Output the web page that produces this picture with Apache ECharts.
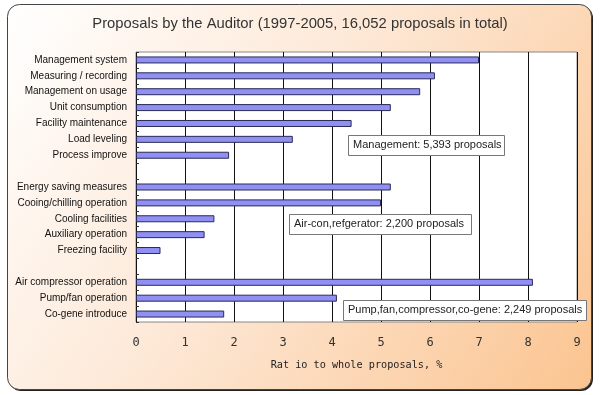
<!DOCTYPE html>
<html><head><meta charset="utf-8">
<script src="https://cdn.jsdelivr.net/npm/echarts@6/dist/echarts.min.js"></script>
<style>html,body{margin:0;padding:0;background:#fff}#c{width:600px;height:395px}</style>
</head><body><div id="c"></div>
<script>
const categories = ['Management system','Measuring / recording','Management on usage','Unit consumption','Facility maintenance','Load leveling','Process improve',' ',
  'Energy saving measures','Cooing/chilling operation','Cooling facilities','Auxiliary operation','Freezing facility','  ',
  'Air compressor operation','Pump/fan operation','Co-gene introduce'];
const values = [7.0, 6.1, 5.8, 5.2, 4.4, 3.2, 1.9, null,
  5.2, 5.0, 1.6, 1.4, 0.5, null,
  8.1, 4.1, 1.8];
const xTicks = [0,1,2,3,4,5,6,7,8,9];
const titleText = 'Proposals by the Auditor (1997-2005, 16,052 proposals in total)';
const xName = 'Rat io to whole proposals, %';
const notes = [
  {text:'Management: 5,393 proposals', x:348, y:135, w:156},
  {text:'Air-con,refgerator: 2,200 proposals', x:289, y:214, w:182},
  {text:'Pump,fan,compressor,co-gene: 2,249 proposals', x:343, y:300, w:243}
];

const chart = echarts.init(document.getElementById('c'), null, {renderer:'canvas'});
const noteGraphics = [];
notes.forEach(n => {
  noteGraphics.push({type:'rect', left:n.x, top:n.y, z:10, shape:{width:n.w, height:20},
    style:{fill:'#fff', stroke:'#777', lineWidth:1}});
  noteGraphics.push({type:'text', left:n.x+5, top:n.y+4, z:11,
    style:{text:n.text, font:'11px "Liberation Sans", Arial, sans-serif', fill:'#222'}});
});
chart.setOption({
  animation:false,
  backgroundColor:'#fff',
  title:{text:titleText, left:'center', top:11,
    textStyle:{fontSize:14.8, fontWeight:'normal', color:'#333', fontFamily:'"Liberation Sans", Arial, sans-serif'}},
  grid:{left:136, top:52, width:441, height:270, show:true, backgroundColor:'#fff', borderColor:'#888', borderWidth:1},
  xAxis:{type:'value', min:0, max:9, interval:1,
    axisLine:{show:false}, axisTick:{show:false},
    axisLabel:{margin:15, fontSize:12, color:'#333', fontFamily:'"DejaVu Sans Mono", monospace',
      formatter: v => xTicks.includes(v) ? String(v) : ''},
    splitLine:{show:true, lineStyle:{color:'#111', width:1}},
    name:xName, nameLocation:'middle', nameGap:38,
    nameTextStyle:{fontSize:10.2, color:'#222', fontFamily:'"DejaVu Sans Mono", monospace'}},
  yAxis:{type:'category', data:categories, inverse:true,
    axisLine:{show:false},
    axisTick:{show:true, inside:true, length:3, lineStyle:{color:'#333'}},
    axisLabel:{margin:9, fontSize:10, color:'#111', fontFamily:'"Liberation Sans", Arial, sans-serif'},
    splitLine:{show:false}},
  series:[{type:'bar', data:values, barWidth:7,
    itemStyle:{color:'#9090f4', borderColor:'#2a2a55', borderWidth:1}}],
  graphic:[
    {type:'rect', left:9, top:6, z:-10, silent:true, shape:{width:584, height:385, r:12}, style:{fill:'#222'}},
    {type:'rect', left:7, top:4, z:-9, silent:true, shape:{width:584, height:385, r:12},
      style:{stroke:'#444', lineWidth:1, fill:new echarts.graphic.LinearGradient(0,0,1,1,[
        {offset:0, color:'#ffffff'},{offset:0.45, color:'#fde8d6'},{offset:1, color:'#fbc490'}])}}
  ].concat(noteGraphics)
});
</script></body></html>
